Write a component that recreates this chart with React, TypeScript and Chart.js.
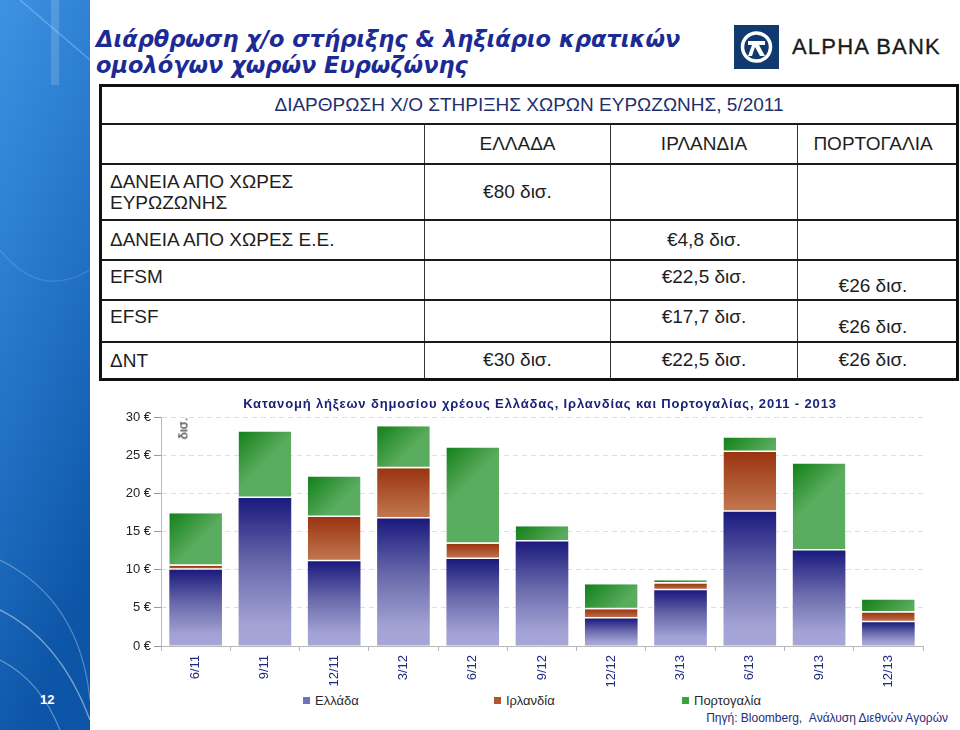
import React, { useEffect, useRef } from "react";
import { Chart, registerables } from "chart.js";

Chart.register(...registerables);

// ---------- data ----------
const categories = ["6/11", "9/11", "12/11", "3/12", "6/12", "9/12", "12/12", "3/13", "6/13", "9/13", "12/13"];
const seriesNames = ["Ελλάδα", "Ιρλανδία", "Πορτογαλία"];
const greece = [10.0, 19.4, 11.1, 16.7, 11.4, 13.7, 3.6, 7.3, 17.6, 12.5, 3.1];
const ireland = [0.5, 0, 5.8, 6.6, 2.0, 0, 1.2, 0.9, 7.8, 0, 1.3];
const portugal = [6.9, 8.7, 5.3, 5.5, 12.6, 2.0, 3.3, 0.4, 1.9, 11.4, 1.7];
const yTicks = [0, 5, 10, 15, 20, 25, 30];

const slideTitle = ["Διάρθρωση χ/ο στήριξης & ληξιάριο κρατικών", "ομολόγων χωρών Ευρωζώνης"];
const chartTitle = "Κατανομή λήξεων δημοσίου χρέους Ελλάδας, Ιρλανδίας και Πορτογαλίας, 2011 - 2013";
const tableTitle = "ΔΙΑΡΘΡΩΣΗ Χ/Ο ΣΤΗΡΙΞΗΣ ΧΩΡΩΝ ΕΥΡΩΖΩΝΗΣ, 5/2011";
const tableCountries = ["ΕΛΛΑΔΑ", "ΙΡΛΑΝΔΙΑ", "ΠΟΡΤΟΓΑΛΙΑ"];
const tableRowLabels = [["ΔΑΝΕΙΑ ΑΠΟ ΧΩΡΕΣ", "ΕΥΡΩΖΩΝΗΣ"], ["ΔΑΝΕΙΑ ΑΠΟ ΧΩΡΕΣ Ε.Ε."], ["EFSM"], ["EFSF"], ["ΔΝΤ"]];
const tableValues = [
  ["€80 δισ.", "", ""],
  ["", "€4,8 δισ.", ""],
  ["", "€22,5 δισ.", "€26 δισ."],
  ["", "€17,7 δισ.", "€26 δισ."],
  ["€30 δισ.", "€22,5 δισ.", "€26 δισ."],
];
const sourceText = "Πηγή: Bloomberg,  Ανάλυση Διεθνών Αγορών";
const pageNumber = "12";

const allSeries = [greece, ireland, portugal];
const legendColors = ["#7272b8", "#b0582c", "#3e9e42"];
const BAR_PCT = 0.76;

function geom(c: any) {
  const chart = c.chart;
  const xs = chart.scales?.x;
  const ys = chart.scales?.y;
  if (!xs || !ys || c.dataIndex == null || c.datasetIndex == null) return null;
  const i = c.dataIndex;
  const d = c.datasetIndex;
  let base = 0;
  for (let k = 0; k < d; k++) base += allSeries[k][i];
  const top = base + allSeries[d][i];
  const yTop = ys.getPixelForValue(top);
  const yBot = ys.getPixelForValue(base);
  const xc = xs.getPixelForValue(i);
  const w = (xs.width / categories.length) * BAR_PCT;
  if (![yTop, yBot, xc, w].every((v) => isFinite(v))) return null;
  return { x0: xc - w / 2, x1: xc + w / 2, yTop, yBot };
}

function greeceFill(c: any) {
  const g = geom(c);
  if (!g || g.yBot - g.yTop < 1) return legendColors[0];
  const grd = c.chart.ctx.createLinearGradient(0, g.yTop, 0, g.yBot);
  grd.addColorStop(0, "#1a1a7e");
  grd.addColorStop(0.45, "#6a6aac");
  grd.addColorStop(0.85, "#a2a2d4");
  grd.addColorStop(1, "#a6a6d8");
  return grd;
}
function irelandFill(c: any) {
  const g = geom(c);
  if (!g || g.yBot - g.yTop < 1) return legendColors[1];
  const grd = c.chart.ctx.createLinearGradient(0, g.yTop, 0, g.yBot);
  grd.addColorStop(0, "#9a3410");
  grd.addColorStop(1, "#c27850");
  return grd;
}
function portugalFill(c: any) {
  const g = geom(c);
  if (!g || g.yBot - g.yTop < 1) return legendColors[2];
  const w = g.x1 - g.x0;
  const grd = c.chart.ctx.createLinearGradient(g.x0, g.yTop, g.x0 + w * 0.55, g.yTop + w * 0.55);
  grd.addColorStop(0, "#138018");
  grd.addColorStop(1, "#5aac5e");
  return grd;
}

const FONT = "'Liberation Sans', Arial, Helvetica, sans-serif";
const WIDE = "'DejaVu Sans', Verdana, sans-serif";

function BarChart() {
  const ref = useRef<HTMLCanvasElement | null>(null);
  useEffect(() => {
    if (!ref.current) return;
    const sep = { top: 0, left: 0, right: 0, bottom: 1.5 };
    const chart = new Chart(ref.current, {
      type: "bar",
      data: {
        labels: categories,
        datasets: [
          { label: seriesNames[0], data: greece, backgroundColor: greeceFill as any, borderWidth: 0 },
          { label: seriesNames[1], data: ireland, backgroundColor: irelandFill as any, borderColor: "#ffffff", borderWidth: sep, borderSkipped: false },
          { label: seriesNames[2], data: portugal, backgroundColor: portugalFill as any, borderColor: "#ffffff", borderWidth: sep, borderSkipped: false },
        ],
      },
      options: {
        responsive: false,
        maintainAspectRatio: false,
        animation: false,
        layout: { padding: { left: 0, right: 17, top: 27, bottom: 0 } },
        datasets: { bar: { barPercentage: BAR_PCT, categoryPercentage: 1 } },
        plugins: {
          legend: { display: false },
          tooltip: { enabled: false },
          title: { display: false },
        },
        scales: {
          x: {
            stacked: true,
            offset: true,
            afterFit: (s: any) => {
              s.height = 46;
            },
            grid: { display: true, drawOnChartArea: false, drawTicks: true, tickLength: 5, color: "#b8b8b8", offset: true },
            border: { display: true, color: "#b8b8b8", width: 1 },
            ticks: {
              color: "#1f2a80",
              font: { family: FONT, size: 13 },
              minRotation: 90,
              maxRotation: 90,
              padding: 4,
              autoSkip: false,
            },
          },
          y: {
            stacked: true,
            min: 0,
            max: 30,
            afterFit: (s: any) => {
              s.width = 61;
            },
            afterBuildTicks: (s: any) => {
              s.ticks = yTicks.map((v) => ({ value: v }));
            },
            grid: { color: "#dedede", tickColor: "#999", tickLength: 7, tickBorderDash: [], lineWidth: 1 },
            border: { display: true, color: "#b8b8b8", width: 1, dash: [5, 4] },
            ticks: {
              color: "#222",
              font: { family: FONT, size: 13 },
              padding: 3,
              callback: (v: any) => `${v} €`,
            },
          },
        },
      },
    });
    return () => chart.destroy();
  }, []);
  return (
    <canvas
      ref={ref}
      width={840}
      height={302}
      style={{ position: "absolute", left: 100, top: 390, width: 840, height: 302 }}
    />
  );
}

function LeftStrip() {
  return (
    <svg width={90} height={730} style={{ position: "absolute", left: 0, top: 0 }}>
      <defs>
        <linearGradient id="strip" x1="0" y1="0" x2="0.3" y2="1">
          <stop offset="0" stopColor="#3f93e2" />
          <stop offset="0.5" stopColor="#2475c9" />
          <stop offset="1" stopColor="#0d55a6" />
        </linearGradient>
      </defs>
      <rect x={0} y={0} width={90} height={730} fill="url(#strip)" />
      <path d="M20 0 L90 60" stroke="#ffffff" strokeOpacity={0.25} strokeWidth={1.5} fill="none" />
      <path d="M55 0 L55 85" stroke="#ffffff" strokeOpacity={0.15} strokeWidth={8} fill="none" />
      <path d="M0 250 Q40 300 90 270" stroke="#ffffff" strokeOpacity={0.12} strokeWidth={1.5} fill="none" />
      <path d="M0 610 Q60 640 90 720" stroke="#ffffff" strokeOpacity={0.45} strokeWidth={1.5} fill="none" />
      <path d="M0 560 Q80 600 90 700" stroke="#ffffff" strokeOpacity={0.3} strokeWidth={1.2} fill="none" />
      <path d="M0 660 Q40 680 60 730" stroke="#ffffff" strokeOpacity={0.35} strokeWidth={1.2} fill="none" />
    </svg>
  );
}

function Logo() {
  return (
    <div style={{ position: "absolute", left: 734, top: 25, width: 220, height: 45 }}>
      <svg width={45} height={44} style={{ position: "absolute", left: 0, top: 0 }}>
        <rect x={0} y={0} width={45} height={44} fill="#10396f" />
        <circle cx={22.5} cy={22} r={14} fill="none" stroke="#ffffff" strokeWidth={3.5} />
        <path d="M14 16 L31 16 L31 20 L25 20 L31 31 L26 31 L21 22 L18 31 L14 31 L18 20 L14 20 Z" fill="#ffffff" />
      </svg>
      <div
        style={{
          position: "absolute",
          left: 58,
          top: 9,
          fontFamily: FONT,
          fontSize: 22,
          letterSpacing: 1.2,
          color: "#1a1a1a",
          whiteSpace: "nowrap",
          WebkitTextStroke: "0.3px #1a1a1a",
        }}
      >
        ALPHA BANK
      </div>
    </div>
  );
}

function SupportTable() {
  const border = "2px solid #1a1a1a";
  const vline = "1.5px solid #333";
  const cell: React.CSSProperties = { padding: "0 4px", verticalAlign: "middle", color: "#1e1e1e" };
  const rowH = [56, 40, 40, 42, 38];
  return (
    <table
      style={{
        position: "absolute",
        left: 99,
        top: 84,
        width: 857,
        height: 294,
        borderCollapse: "collapse",
        tableLayout: "fixed",
        border: "3px solid #111",
        fontFamily: FONT,
        fontSize: 19,
        background: "#fff",
      }}
    >
      <colgroup>
        <col style={{ width: 324 }} />
        <col style={{ width: 186 }} />
        <col style={{ width: 187 }} />
        <col style={{ width: 160 }} />
      </colgroup>
      <tbody>
        <tr style={{ height: 38 }}>
          <td colSpan={4} style={{ ...cell, textAlign: "center", color: "#1f2f6e", borderBottom: border }}>
            {tableTitle}
          </td>
        </tr>
        <tr style={{ height: 40 }}>
          <td style={{ ...cell, borderBottom: border, borderRight: vline }} />
          {tableCountries.map((c, j) => (
            <td
              key={c}
              style={{
                ...cell,
                textAlign: "center",
                borderBottom: border,
                borderRight: j < 2 ? vline : undefined,
                paddingRight: j === 2 ? 12 : 4,
              }}
            >
              {c}
            </td>
          ))}
        </tr>
        {tableRowLabels.map((lab, r) => (
          <tr key={r} style={{ height: rowH[r] }}>
            <td
              style={{
                ...cell,
                paddingLeft: 8,
                borderBottom: r < 4 ? border : undefined,
                borderRight: vline,
                lineHeight: "21px",
                verticalAlign: r === 2 || r === 3 ? "top" : "middle",
              }}
            >
              <div style={{ marginTop: r === 2 || r === 3 ? 5 : 0 }}>
                {lab.map((l, k) => (
                  <div key={k}>{l}</div>
                ))}
              </div>
            </td>
            {tableValues[r].map((v, j) => (
              <td
                key={j}
                style={{
                  ...cell,
                  textAlign: "center",
                  borderBottom: r < 4 ? border : undefined,
                  borderRight: j < 2 ? vline : undefined,
                  paddingRight: j === 2 ? 12 : 4,
                  verticalAlign: (r === 2 || r === 3) && j === 1 ? "top" : "middle",
                  paddingTop: (r === 2 || r === 3) && j === 2 ? 12 : 0,
                }}
              >
                <div style={{ marginTop: (r === 2 || r === 3) && j === 1 ? 5 : 0 }}>{v}</div>
              </td>
            ))}
          </tr>
        ))}
      </tbody>
    </table>
  );
}

function Legend() {
  const xs = [303, 494, 682];
  return (
    <>
      {seriesNames.map((n, i) => (
        <div
          key={n}
          style={{
            position: "absolute",
            left: xs[i],
            top: 692,
            height: 16,
            display: "flex",
            alignItems: "center",
            fontFamily: FONT,
            fontSize: 13,
            color: "#2a2a2a",
            whiteSpace: "nowrap",
          }}
        >
          <span style={{ display: "inline-block", width: 7, height: 7, background: legendColors[i], marginRight: 5 }} />
          {n}
        </div>
      ))}
    </>
  );
}

export default function App() {
  return (
    <div
      style={{
        position: "absolute",
        left: 0,
        top: 0,
        width: 960,
        height: 730,
        background: "#ffffff",
        overflow: "hidden",
        fontFamily: FONT,
      }}
    >
      <LeftStrip />
      <div
        style={{
          position: "absolute",
          left: 40,
          top: 692,
          color: "#ffffff",
          fontWeight: "bold",
          fontSize: 13,
          fontFamily: FONT,
        }}
      >
        {pageNumber}
      </div>
      <div
        style={{
          position: "absolute",
          left: 96,
          top: 26,
          fontFamily: WIDE,
          fontSize: 22.5,
          lineHeight: "26px",
          fontWeight: "bold",
          fontStyle: "italic",
          color: "#1c2b94",
          whiteSpace: "nowrap",
        }}
      >
        {slideTitle.map((t) => (
          <div key={t}>{t}</div>
        ))}
      </div>
      <Logo />
      <SupportTable />
      <BarChart />
      <div
        style={{
          position: "absolute",
          left: 240,
          width: 600,
          top: 396,
          textAlign: "center",
          fontFamily: FONT,
          fontSize: 13,
          fontWeight: "bold",
          letterSpacing: 0.85,
          color: "#1a2378",
          whiteSpace: "nowrap",
        }}
      >
        {chartTitle}
      </div>
      <div
        style={{
          position: "absolute",
          left: 172,
          top: 421,
          transform: "rotate(-90deg)",
          transformOrigin: "center",
          fontFamily: FONT,
          fontSize: 13,
          color: "#222",
        }}
      >
        δισ.
      </div>
      <Legend />
      <div
        style={{
          position: "absolute",
          right: 12,
          top: 711,
          fontFamily: FONT,
          fontSize: 12,
          color: "#1f2a80",
          whiteSpace: "pre",
        }}
      >
        {sourceText}
      </div>
    </div>
  );
}
